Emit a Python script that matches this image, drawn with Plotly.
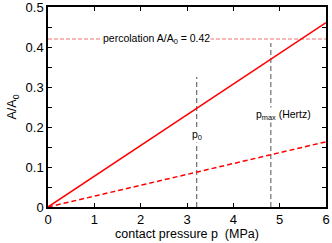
import plotly.graph_objects as go

p = [0, 6]
area_solid = [0, 0.461]
area_dashed = [0, 0.163]
perc_x = [0, 6]
perc_y = [0.42, 0.42]
p0_x = [3.21, 3.21]
p0_y = [0, 0.325]
pmax_x = [4.81, 4.81]
pmax_y = [0, 0.41]

fig = go.Figure()
fig.add_trace(go.Scatter(x=perc_x, y=perc_y, mode="lines",
                         line=dict(color="#f07070", width=1, dash="4px,2px"), hoverinfo="skip"))
fig.add_trace(go.Scatter(x=p0_x, y=p0_y, mode="lines",
                         line=dict(color="#505050", width=1, dash="5px,3px"), hoverinfo="skip"))
fig.add_trace(go.Scatter(x=pmax_x, y=pmax_y, mode="lines",
                         line=dict(color="#505050", width=1, dash="5px,3px"), hoverinfo="skip"))
fig.add_trace(go.Scatter(x=p, y=area_solid, mode="lines",
                         line=dict(color="#ff0000", width=1.5)))
fig.add_trace(go.Scatter(x=p, y=area_dashed, mode="lines",
                         line=dict(color="#ff0000", width=1.5, dash="5px,3px")))

fnt = dict(family="Liberation Sans, Arial, sans-serif", size=10.5, color="black")
fig.add_annotation(x=2.35, y=0.42, text="percolation A/A<sub>0</sub> = 0.42", showarrow=False,
                   bgcolor="white", font=fnt, borderpad=0)
fig.add_annotation(x=3.21, y=0.18, text="p<sub>0</sub>", showarrow=False,
                   bgcolor="white", font=fnt, borderpad=0)
fig.add_annotation(x=5.08, y=0.23, text="p<sub>max</sub> (Hertz)", showarrow=False,
                   bgcolor="white", font=fnt, borderpad=0)

fig.update_layout(
    width=332, height=243,
    margin=dict(l=48, r=6, t=7, b=36),
    plot_bgcolor="white", paper_bgcolor="white",
    showlegend=False,
    font=dict(family="Liberation Sans, Arial, sans-serif", size=13, color="black"),
)
fig.update_xaxes(range=[0, 6], dtick=1, tick0=0, ticks="inside", ticklen=4, tickcolor="black",
                 showline=True, linecolor="black", linewidth=1.5, mirror="ticks",
                 showgrid=False, zeroline=False, automargin=False, ticklabeloverflow="allow",
                 title=dict(text="contact pressure p  (MPa)", font=dict(size=12.5), standoff=2))
fig.update_yaxes(range=[0, 0.5], dtick=0.1, tick0=0, ticks="inside", ticklen=4, tickcolor="black",
                 showline=True, linecolor="black", linewidth=1.5, mirror="ticks",
                 showgrid=False, zeroline=False, automargin=False, ticklabeloverflow="allow",
                 minor=dict(dtick=0.05, ticks="inside", ticklen=4, tickcolor="black", showgrid=False),
                 title=dict(text="A/A<sub>0</sub>", font=dict(size=12.5), standoff=6))

fig.write_html("out.html", config={"displayModeBar": False},
               post_script="document.body.style.margin='0';")
